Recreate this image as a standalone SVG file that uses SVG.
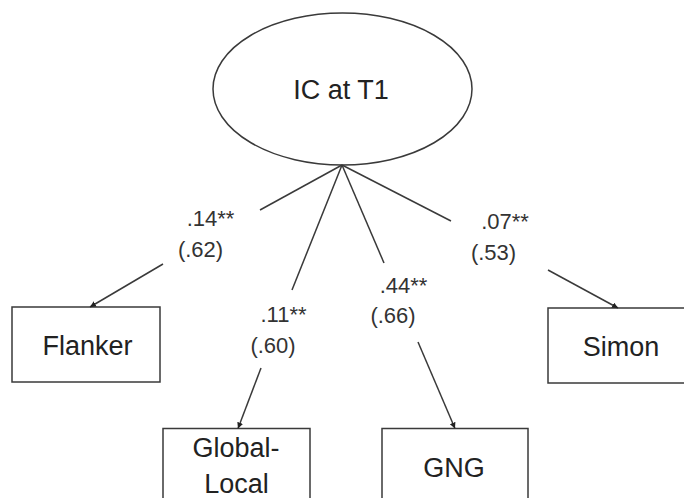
<svg xmlns="http://www.w3.org/2000/svg" width="684" height="498" viewBox="0 0 684 498">
<style>
.node{fill:#fff;stroke:#3a3a3a;stroke-width:1.5}
.t{font-family:"Liberation Sans",Arial,sans-serif;font-size:27px;fill:#222;text-anchor:middle}
.l{font-family:"Liberation Sans",Arial,sans-serif;font-size:22px;fill:#333;text-anchor:middle}
.c{stroke:#3a3a3a;stroke-width:1.5;fill:none}
</style>
<defs>
<marker id="ah" markerUnits="userSpaceOnUse" markerWidth="8" markerHeight="8" refX="6" refY="3" orient="auto">
<path d="M0,0 L6,3 L0,6 z" fill="#222"/>
</marker>
</defs>
<rect width="684" height="498" fill="#fff"/>
<g id="ic">
<ellipse class="node" cx="342.5" cy="89" rx="129.5" ry="76"/>
<text class="t" x="341" y="99">IC at T1</text>
</g>
<g id="flanker">
<rect class="node" x="12" y="307" width="148" height="75"/>
<text class="t" x="87.5" y="355">Flanker</text>
</g>
<g id="simon">
<rect class="node" x="548" y="308" width="142" height="75"/>
<text class="t" x="621" y="356">Simon</text>
</g>
<g id="globallocal">
<rect class="node" x="163" y="428.5" width="147" height="80"/>
<text class="t" x="236" y="457">Global-</text>
<text class="t" x="236.5" y="493">Local</text>
</g>
<g id="gng">
<rect class="node" x="382" y="428.5" width="146" height="80"/>
<text class="t" x="454" y="477">GNG</text>
</g>
<g id="connectors">
<line class="c" x1="342" y1="165" x2="260" y2="210"/>
<line class="c" x1="163" y1="264" x2="90" y2="307" marker-end="url(#ah)"/>
<line class="c" x1="342" y1="165" x2="292" y2="290"/>
<line class="c" x1="261" y1="368" x2="238" y2="428.5" marker-end="url(#ah)"/>
<line class="c" x1="342" y1="165" x2="384" y2="263"/>
<line class="c" x1="418" y1="342" x2="455" y2="428.5" marker-end="url(#ah)"/>
<line class="c" x1="342" y1="165" x2="451" y2="221"/>
<line class="c" x1="548" y1="270" x2="618" y2="308" marker-end="url(#ah)"/>
</g>
<g id="labels">
<text class="l" x="210.5" y="226">.14**</text>
<text class="l" x="200.5" y="257">(.62)</text>
<text class="l" x="283.5" y="322">.11**</text>
<text class="l" x="273" y="353">(.60)</text>
<text class="l" x="403.5" y="293">.44**</text>
<text class="l" x="393" y="323">(.66)</text>
<text class="l" x="505" y="229">.07**</text>
<text class="l" x="493.5" y="260">(.53)</text>
</g>
</svg>
